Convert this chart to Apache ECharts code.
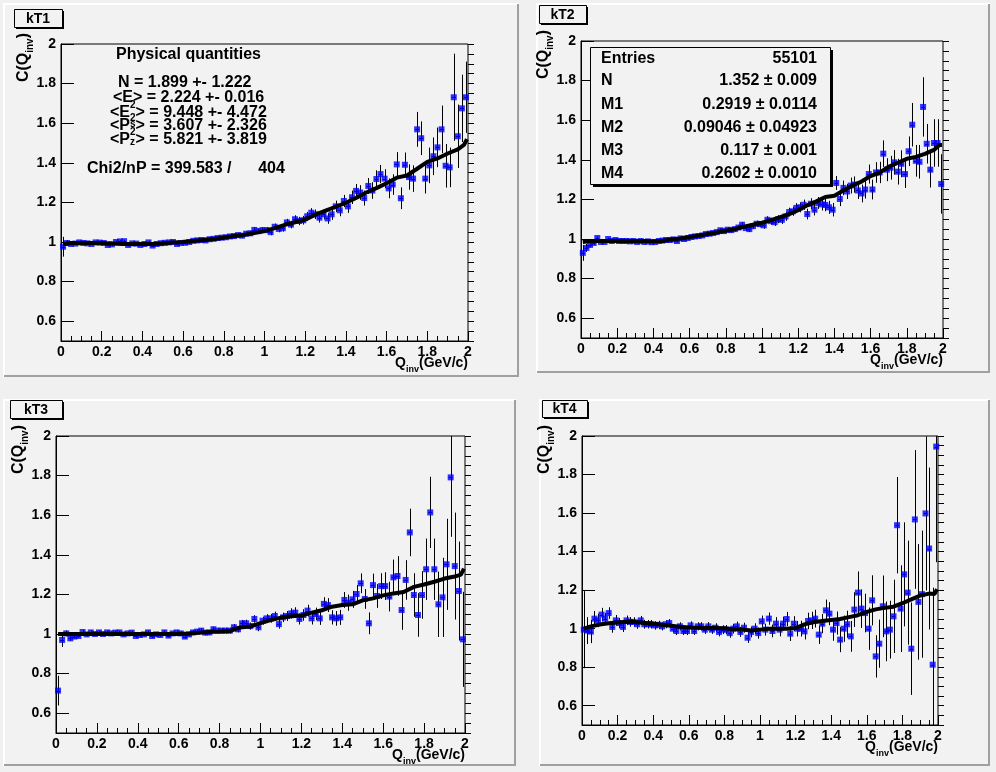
<!DOCTYPE html>
<html><head><meta charset="utf-8">
<script src="https://cdn.jsdelivr.net/npm/echarts@6/dist/echarts.min.js"></script>
<style>html,body{margin:0;padding:0;background:#f0f0f0}#c{width:996px;height:772px}</style>
</head><body><div id="c"></div>
<script>
// ---------- data ----------
const BIN_WIDTH = 0.02;
const binCenters = Array.from({length: 100}, (_, k) => +(BIN_WIDTH / 2 + BIN_WIDTH * k).toFixed(2));

const xTicks = [0, 0.2, 0.4, 0.6, 0.8, 1, 1.2, 1.4, 1.6, 1.8, 2];
const yTicks = [0.6, 0.8, 1, 1.2, 1.4, 1.6, 1.8, 2];
const panelTitles = ['kT1', 'kT2', 'kT3', 'kT4'];

const kT1Values = [
0.976,0.995,0.99,0.992,0.998,0.995,0.993,0.99,0.998,0.997,
0.995,0.985,0.988,1.0,1.003,1.004,0.985,0.993,0.992,0.985,
0.99,0.998,0.982,0.99,0.994,0.996,0.998,1.0,0.99,0.995,
0.996,1.0,1.006,1.008,1.01,1.008,1.014,1.016,1.02,1.022,
1.024,1.028,1.03,1.035,1.032,1.042,1.044,1.061,1.055,1.06,
1.06,1.05,1.077,1.066,1.07,1.099,1.088,1.115,1.106,1.11,
1.13,1.148,1.14,1.123,1.14,1.119,1.14,1.18,1.16,1.207,
1.18,1.226,1.258,1.25,1.222,1.283,1.26,1.318,1.343,1.32,
1.271,1.29,1.392,1.221,1.39,1.328,1.32,1.569,1.524,1.32,
1.387,1.433,1.478,1.569,1.385,1.377,1.731,1.534,1.675,1.731];
const kT1Errors = [
0.05,0.015,0.008,0.007,0.007,0.007,0.007,0.007,0.007,0.007,
0.007,0.007,0.007,0.007,0.007,0.007,0.007,0.007,0.007,0.007,
0.007,0.007,0.008,0.008,0.008,0.008,0.008,0.008,0.008,0.008,
0.009,0.009,0.009,0.009,0.009,0.010,0.010,0.010,0.010,0.011,
0.011,0.011,0.012,0.012,0.012,0.013,0.013,0.014,0.014,0.015,
0.015,0.016,0.016,0.017,0.018,0.018,0.019,0.020,0.021,0.022,
0.022,0.023,0.024,0.025,0.026,0.027,0.028,0.029,0.030,0.031,
0.033,0.034,0.035,0.037,0.038,0.040,0.042,0.044,0.046,0.048,
0.050,0.052,0.062,0.055,0.062,0.064,0.067,0.088,0.085,0.075,
0.09,0.095,0.10,0.12,0.11,0.10,0.22,0.16,0.17,0.18];

const kT2Values = [
0.93,0.955,0.97,0.98,1.005,0.985,0.985,1.0,0.99,0.995,
0.99,0.99,0.99,0.988,0.99,0.985,0.99,0.985,0.988,0.984,
0.985,0.99,0.992,0.995,0.995,0.998,0.99,1.003,1.0,1.005,
1.01,1.013,1.015,1.018,1.025,1.027,1.03,1.035,1.044,1.04,
1.047,1.045,1.05,1.058,1.072,1.055,1.05,1.065,1.077,1.075,
1.069,1.097,1.09,1.085,1.1,1.097,1.114,1.136,1.14,1.157,
1.16,1.173,1.126,1.178,1.148,1.182,1.175,1.172,1.16,1.148,
1.283,1.202,1.258,1.24,1.27,1.275,1.245,1.23,1.25,1.328,
1.25,1.336,1.336,1.431,1.35,1.36,1.387,1.34,1.38,1.328,
1.443,1.577,1.395,1.39,1.667,1.481,1.35,1.485,1.485,1.278];
const kT2Errors = [
0.04,0.02,0.012,0.01,0.008,0.008,0.007,0.007,0.007,0.007,
0.007,0.007,0.007,0.007,0.007,0.007,0.007,0.007,0.007,0.007,
0.007,0.007,0.007,0.008,0.008,0.008,0.008,0.008,0.008,0.009,
0.009,0.009,0.009,0.01,0.01,0.01,0.01,0.011,0.011,0.011,
0.012,0.012,0.013,0.013,0.014,0.014,0.015,0.015,0.016,0.016,
0.017,0.018,0.018,0.019,0.02,0.021,0.022,0.022,0.023,0.024,
0.025,0.026,0.027,0.028,0.029,0.03,0.031,0.032,0.033,0.034,
0.035,0.036,0.037,0.038,0.04,0.041,0.043,0.045,0.046,0.048,
0.05,0.052,0.054,0.067,0.058,0.06,0.062,0.065,0.068,0.07,
0.075,0.11,0.08,0.085,0.15,0.1,0.09,0.12,0.12,0.15];

const kT3Values = [
0.714,0.97,1.003,0.978,0.987,0.99,1.01,0.998,1.008,1.0,
1.008,1.0,1.008,1.003,1.007,1.008,0.998,1.003,1.007,0.99,
0.995,0.998,1.008,0.99,0.998,0.995,1.008,0.992,1.003,1.008,
1.003,0.987,0.998,1.008,1.012,1.017,1.007,1.008,1.024,1.017,
1.017,1.017,1.017,1.034,1.024,1.054,1.054,1.04,1.076,1.034,
1.067,1.079,1.079,1.091,1.05,1.084,1.091,1.104,1.108,1.076,
1.096,1.118,1.079,1.101,1.079,1.152,1.146,1.084,1.079,1.084,
1.172,1.158,1.175,1.202,1.256,1.177,1.054,1.247,1.192,1.242,
1.242,1.189,1.286,1.293,1.121,1.273,1.513,1.197,1.096,1.197,
1.327,1.614,1.327,1.15,1.185,1.352,1.791,1.343,1.217,0.973];
const kT3Errors = [
0.075,0.035,0.015,0.012,0.01,0.01,0.01,0.01,0.01,0.01,
0.01,0.01,0.01,0.01,0.01,0.01,0.01,0.01,0.01,0.01,
0.01,0.01,0.01,0.01,0.01,0.01,0.01,0.01,0.01,0.01,
0.011,0.011,0.011,0.012,0.012,0.012,0.013,0.013,0.013,0.014,
0.014,0.015,0.015,0.016,0.016,0.017,0.018,0.018,0.019,0.02,
0.02,0.021,0.022,0.022,0.023,0.024,0.025,0.026,0.027,0.028,
0.029,0.03,0.031,0.032,0.033,0.034,0.035,0.036,0.037,0.038,
0.04,0.041,0.043,0.045,0.05,0.05,0.055,0.058,0.06,0.065,
0.07,0.075,0.09,0.1,0.1,0.1,0.12,0.11,0.11,0.12,
0.155,0.18,0.155,0.165,0.2,0.23,0.3,0.27,0.25,0.24];

const kT4Values = [
0.995,0.99,0.985,1.052,1.043,1.073,1.052,1.081,1.009,1.043,
1.029,1.009,1.043,1.035,1.035,1.023,1.043,1.023,1.023,1.023,
1.017,1.02,1.012,1.023,1.029,1.0,0.988,1.012,0.988,0.988,
1.017,0.988,1.012,1.012,0.995,1.012,0.995,1.005,0.983,0.995,
0.995,0.977,1.0,1.012,0.983,1.005,0.953,0.983,1.0,0.977,
1.038,0.995,1.052,0.988,1.026,0.995,1.026,1.05,0.974,1.026,
1.0,1.0,0.986,1.04,1.043,1.052,0.969,1.026,1.095,1.078,
0.995,1.029,0.943,1.0,1.023,0.96,1.099,1.187,1.104,1.081,
1.0,1.147,0.856,0.922,1.116,0.986,0.995,1.064,1.537,1.104,
1.282,1.187,0.896,1.567,1.139,1.179,1.598,1.416,0.813,1.945];
const kT4Errors = [
0.2,0.07,0.06,0.04,0.035,0.035,0.03,0.03,0.03,0.028,
0.027,0.026,0.025,0.025,0.024,0.024,0.023,0.023,0.022,0.022,
0.022,0.021,0.021,0.021,0.021,0.021,0.021,0.021,0.021,0.021,
0.021,0.021,0.021,0.022,0.022,0.022,0.022,0.023,0.023,0.023,
0.024,0.024,0.025,0.025,0.026,0.026,0.027,0.028,0.028,0.029,
0.03,0.031,0.032,0.033,0.034,0.035,0.036,0.037,0.038,0.039,
0.04,0.041,0.042,0.043,0.045,0.046,0.048,0.05,0.056,0.06,
0.058,0.06,0.065,0.068,0.07,0.08,0.09,0.11,0.1,0.1,
0.11,0.13,0.11,0.125,0.16,0.155,0.15,0.19,0.25,0.225,
0.27,0.27,0.24,0.36,0.3,0.33,0.4,0.42,0.4,0.6];

// fit curves (read at these Q values)
const fitQ = [0.01,0.05,0.1,0.15,0.2,0.25,0.3,0.35,0.4,0.45,
              0.5,0.55,0.6,0.65,0.7,0.75,0.8,0.85,0.9,0.95,
              1.0,1.05,1.1,1.15,1.2,1.25,1.3,1.35,1.4,1.45,
              1.5,1.55,1.6,1.65,1.7,1.75,1.8,1.85,1.9,1.95,1.98,1.995];
const kT1Fit = [0.99,0.995,0.995,0.995,0.995,0.992,0.99,0.99,0.99,0.99,
                0.993,0.997,1.0,1.005,1.01,1.015,1.022,1.03,1.036,1.045,
                1.055,1.07,1.087,1.1,1.113,1.138,1.158,1.178,1.198,1.222,
                1.25,1.272,1.297,1.325,1.336,1.37,1.405,1.422,1.447,1.468,1.49,1.52];
const kT2Fit = [0.985,0.99,0.99,0.99,0.99,0.99,0.99,0.99,0.988,0.99,
                0.998,1.003,1.01,1.017,1.025,1.033,1.042,1.05,1.062,1.072,
                1.082,1.095,1.11,1.125,1.145,1.17,1.19,1.212,1.218,1.245,
                1.27,1.29,1.318,1.335,1.365,1.385,1.405,1.415,1.43,1.45,1.475,1.475];
const kT3Fit = [1.0,1.0,1.0,1.0,1.0,1.0,1.0,1.0,1.0,1.0,
                1.0,1.0,1.0,1.002,1.006,1.01,1.012,1.015,1.033,1.038,
                1.055,1.07,1.083,1.09,1.093,1.108,1.12,1.138,1.146,1.15,
                1.17,1.18,1.195,1.205,1.212,1.238,1.25,1.264,1.28,1.29,1.3,1.33];
const kT4Fit = [1.0,1.012,1.022,1.028,1.032,1.036,1.034,1.03,1.025,1.02,
                1.015,1.01,1.006,1.005,1.004,1.003,1.002,0.997,0.996,0.99,
                0.995,1.0,1.0,1.0,1.003,1.022,1.033,1.04,1.045,1.05,
                1.06,1.07,1.087,1.1,1.108,1.114,1.132,1.152,1.172,1.182,1.18,1.205];

const physLines = ['Physical quantities', 'N = 1.899 +- 1.222', '<E> = 2.224 +- 0.016',
  '<E{sup|2}> = 9.448 +- 4.472', '<P{sup|2}> = 3.607 +- 2.326', '<P{sup|2}> = 5.821 +- 3.819',
  'Chi2/nP = 399.583 /      404'];
const statsLabels = ['Entries', 'N', 'M1', 'M2', 'M3', 'M4'];
const statsValues = ['55101', '1.352 \u00b1 0.009', '0.2919 \u00b1 0.0114', '0.09046 \u00b1 0.04923', '0.117 \u00b1 0.001', '0.2602 \u00b1 0.0010'];

// ---------- layout ----------
const FONT = '"Liberation Sans", Arial, Helvetica, sans-serif';
const PAD_BG = '#f2f2f2';
const grids = [
  {left: 61, top: 44, width: 407, height: 297},
  {left: 581, top: 41, width: 362, height: 297},
  {left: 56, top: 436, width: 409, height: 297},
  {left: 582, top: 436, width: 356, height: 289}
];
const pads = [[3, 3, 519, 377], [536, 3, 990, 373], [3, 399, 516, 766], [539, 399, 990, 766]];
const titleBoxes = [[14, 9, 48, 18], [539, 5, 47, 18], [10, 400, 52, 18], [542, 400, 45, 17]];
const valuesAll = [kT1Values, kT2Values, kT3Values, kT4Values];
const errorsAll = [kT1Errors, kT2Errors, kT3Errors, kT4Errors];
const fitsAll = [kT1Fit, kT2Fit, kT3Fit, kT4Fit];

const chart = echarts.init(document.getElementById('c'), null, {renderer: 'canvas'});
const labelStyle = {color: '#000', fontFamily: FONT, fontWeight: 'bold', fontSize: 14};

const xAxes = [], yAxes = [], series = [], graphics = [];
const subRichX = {sub: {fontSize: 9, fontFamily: FONT, fontWeight: 'bold', lineHeight: 9, padding: [10, 0, 0, 0], verticalAlign: 'top', fill: '#000'}};
const subRichY = {sub: {fontSize: 10, fontFamily: FONT, fontWeight: 'bold', lineHeight: 10, padding: [10, 0, 0, 0], verticalAlign: 'top', fill: '#000'}};

pads.forEach(([x0, y0, x1, y1]) => {
  graphics.push({type: 'rect', z: -10, shape: {x: x0, y: y0, width: x1 - x0, height: y1 - y0}, style: {fill: PAD_BG}});
  graphics.push({type: 'polyline', z: -9, shape: {points: [[x0 + 1, y1], [x0 + 1, y0 + 1], [x1, y0 + 1]]}, style: {stroke: '#ffffff', lineWidth: 2, fill: null}});
  graphics.push({type: 'polyline', z: -9, shape: {points: [[x0 + 1, y1 - 1], [x1 - 1, y1 - 1], [x1 - 1, y0 + 1]]}, style: {stroke: '#a0a0a0', lineWidth: 2, fill: null}});
});

titleBoxes.forEach(([x, y, w, h], i) => {
  graphics.push({type: 'rect', z: 5, shape: {x: x + 2, y: y + 2, width: w, height: h}, style: {fill: '#000'}});
  graphics.push({type: 'rect', z: 6, shape: {x: x + 0.5, y: y + 0.5, width: w, height: h}, style: {fill: PAD_BG, stroke: '#000', lineWidth: 1}});
  graphics.push({type: 'text', z: 7, x: x + w / 2, y: y + h / 2 + 1, style: {text: panelTitles[i], fontSize: 14, fontWeight: 'bold', fontFamily: FONT, fill: '#000', align: 'center', verticalAlign: 'middle'}});
});

grids.forEach((g, i) => {
  xAxes.push({
    gridIndex: i, type: 'value', min: 0, max: 2, interval: 0.2,
    axisLine: {show: true, onZero: false, lineStyle: {color: '#000', width: 1}},
    axisTick: {show: true, inside: true, length: 10, lineStyle: {color: '#000', width: 1}},
    minorTick: {show: true, splitNumber: 4, length: 5, lineStyle: {color: '#000', width: 1}},
    axisLabel: Object.assign({margin: 4, showMinLabel: true, showMaxLabel: true}, labelStyle),
    splitLine: {show: false}, minorSplitLine: {show: false}
  });
  yAxes.push({
    gridIndex: i, type: 'value', min: 0.5, max: 2, position: 'left',
    axisLine: {show: true, onZero: false, lineStyle: {color: '#000', width: 1}},
    axisTick: {show: true, inside: true, length: 13, customValues: yTicks, lineStyle: {color: '#000', width: 1}},
    axisLabel: Object.assign({margin: 5, customValues: yTicks}, labelStyle),
    splitLine: {show: false}
  });
  yAxes.push({
    gridIndex: i, type: 'value', min: 0.5, max: 2, interval: 0.05, position: 'right', offset: -g.width,
    axisLine: {show: false},
    axisTick: {show: true, inside: false, length: 6, lineStyle: {color: '#000', width: 1}},
    axisLabel: {show: false}, splitLine: {show: false}
  });
  const vals = valuesAll[i], errs = errorsAll[i], fit = fitsAll[i];
  const pts = binCenters.map((q, k) => [q, vals[k], errs[k]]);
  series.push({
    type: 'custom', xAxisIndex: i, yAxisIndex: 2 * i, z: 2, clip: true, silent: true,
    data: pts,
    renderItem: function (params, api) {
      const x = api.value(0), y = api.value(1), e = api.value(2);
      const t = api.coord([x, y + e]), b = api.coord([x, y - e]);
      const l = api.coord([x - BIN_WIDTH / 2, y]), r = api.coord([x + BIN_WIDTH / 2, y]);
      const cx = Math.round(t[0]) + 0.5;
      return {type: 'group', children: [
        {type: 'line', shape: {x1: cx, y1: t[1], x2: cx, y2: b[1]}, style: {stroke: '#000', lineWidth: 1}},
        {type: 'line', shape: {x1: l[0], y1: Math.round(l[1]) + 0.5, x2: r[0], y2: Math.round(r[1]) + 0.5}, style: {stroke: '#000', lineWidth: 1}}
      ]};
    }
  });
  series.push({
    type: 'scatter', xAxisIndex: i, yAxisIndex: 2 * i, z: 3, clip: true, silent: true,
    symbol: 'rect', symbolSize: 6, itemStyle: {color: '#0000ff'},
    data: pts.map(p => [p[0], p[1]])
  });
  series.push({
    type: 'line', xAxisIndex: i, yAxisIndex: 2 * i, z: 4, clip: true, silent: true,
    showSymbol: false, smooth: false, lineStyle: {color: '#000', width: 4},
    data: fitQ.map((q, k) => [q, fit[k]])
  });
  // axis titles
  graphics.push({type: 'text', z: 8, x: g.left + g.width, y: g.top + g.height + 22,
    style: {text: 'Q{sub|inv}(GeV/c)', rich: subRichX, fontSize: 14, fontWeight: 'bold', fontFamily: FONT, fill: '#000', lineHeight: 16, align: 'right', verticalAlign: 'middle'}});
  graphics.push({type: 'text', z: 8, x: g.left - 37, y: g.top - 11, rotation: Math.PI / 2,
    style: {text: 'C(Q{sub|inv})', rich: subRichY, fontSize: 16, fontWeight: 'bold', fontFamily: FONT, fill: '#000', lineHeight: 18, align: 'right', verticalAlign: 'middle'}});
});

// kT1 physical quantities text
const supRich = {sup: {fontSize: 10, fontFamily: FONT, fontWeight: 'bold', lineHeight: 10, verticalAlign: 'top', fill: '#000'}};
const physPos = [[116, 55], [118, 82.5], [113, 97.5], [110, 113], [110, 126], [110, 140], [87, 168.5]];
physLines.forEach((t, i) => {
  graphics.push({type: 'text', z: 8, x: physPos[i][0], y: physPos[i][1],
    style: {text: t, rich: supRich, fontSize: 16, fontWeight: 'bold', fontFamily: FONT, fill: '#000', lineHeight: 26, align: 'left', verticalAlign: 'middle'}});
});
graphics.push({type: 'text', z: 9, x: 130, y: 124, style: {text: 's', fontSize: 10, fontWeight: 'bold', fontFamily: FONT, fill: '#000', align: 'left', verticalAlign: 'middle'}});
graphics.push({type: 'text', z: 9, x: 130, y: 142, style: {text: 'z', fontSize: 10, fontWeight: 'bold', fontFamily: FONT, fill: '#000', align: 'left', verticalAlign: 'middle'}});

// kT2 stats box
graphics.push({type: 'rect', z: 5, shape: {x: 593, y: 50, width: 240, height: 137}, style: {fill: '#000'}});
graphics.push({type: 'rect', z: 6, shape: {x: 590.5, y: 47.5, width: 240, height: 137}, style: {fill: PAD_BG, stroke: '#000', lineWidth: 1}});
const statsRowY = [58.5, 81, 104.5, 127.5, 150.5, 173.5];
statsLabels.forEach((t, i) => {
  graphics.push({type: 'text', z: 7, x: 601, y: statsRowY[i], style: {text: t, fontSize: 16, fontWeight: 'bold', fontFamily: FONT, fill: '#000', align: 'left', verticalAlign: 'middle'}});
  graphics.push({type: 'text', z: 7, x: 817, y: statsRowY[i], style: {text: statsValues[i], fontSize: 16, fontWeight: 'bold', fontFamily: FONT, fill: '#000', align: 'right', verticalAlign: 'middle'}});
});

chart.setOption({
  backgroundColor: '#f0f0f0',
  animation: false,
  grid: grids.map(g => Object.assign({show: true, borderColor: '#000', borderWidth: 1, backgroundColor: 'transparent', containLabel: false}, g)),
  xAxis: xAxes,
  yAxis: yAxes,
  series: series,
  graphic: {elements: graphics}
});
</script></body></html>
